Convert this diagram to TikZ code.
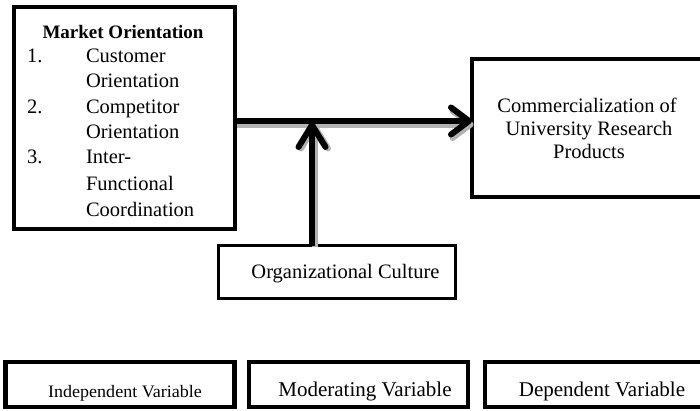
\documentclass[tikz,border=0pt]{standalone}
\usepackage{fontspec}
\setmainfont{Liberation Serif}
\usetikzlibrary{arrows.meta}
\begin{document}
\begin{tikzpicture}[x=1pt,y=-1pt,
  box/.style={draw=black, line width=#1, inner sep=0pt, outer sep=0pt, anchor=north west},
  txt/.style={inner sep=0pt, outer sep=0pt, font=\fontsize{20.5}{23}\selectfont},
  smalltxt/.style={inner sep=0pt, outer sep=0pt, font=\fontsize{#1}{#1}\selectfont},
  flow/.style={draw=black, line width=6pt, -{Straight Barb[length=#1,width=27pt,round]}},
  flow/.default=18pt,
  flowshadow/.style={draw=black!30, line width=6pt, -{Straight Barb[length=#1,width=27pt,round]}},
  flowshadow/.default=18pt
]
\useasboundingbox (0,0) rectangle (700,410);
\clip (0,0) rectangle (700,410);

% boxes of the model
\node[box=4pt, minimum width=221pt, minimum height=222pt] (lbox) at (14,7) {};
\node[box=4pt, minimum width=240pt, minimum height=138pt] (rbox) at (472,59) {};
\node[box=3pt, minimum width=237pt, minimum height=53pt] (mbox) at (218.5,245.5) {};

% legend boxes
\node[box=4.5pt, minimum width=229pt, minimum height=45pt] (leg1) at (5.5,362) {};
\node[box=4.5pt, minimum width=219pt, minimum height=45pt] (leg2) at (249,362) {};
\node[box=4.5pt, minimum width=240pt, minimum height=45pt] (leg3) at (485,362) {};

% independent variable
\node[txt, anchor=base, font=\fontsize{19}{23}\bfseries] (mtitle) at (123,38) {Market Orientation};
\node[txt, anchor=base west] (n1) at (27,62) {1.};
\node[txt, anchor=base west] (i1a) at (86,62) {Customer};
\node[txt, anchor=base west] (i1b) at (86,87) {Orientation};
\node[txt, anchor=base west] (n2) at (27,113) {2.};
\node[txt, anchor=base west] (i2a) at (86,113) {Competitor};
\node[txt, anchor=base west] (i2b) at (86,138) {Orientation};
\node[txt, anchor=base west] (n3) at (27,163) {3.};
\node[txt, anchor=base west] (i3a) at (86,163) {Inter-};
\node[txt, anchor=base west] (i3b) at (86,190) {Functional};
\node[txt, anchor=base west] (i3c) at (86,216) {Coordination};

% dependent variable
\node[txt, anchor=base] (d1) at (587,112) {Commercialization of};
\node[txt, anchor=base] (d2) at (589,135) {University Research};
\node[txt, anchor=base] (d3) at (589,158) {Products};

% moderating variable
\node[txt, anchor=base] (mtxt) at (345.5,278) {Organizational Culture};

% legend texts
\node[smalltxt=17.5, anchor=base, xscale=1.03] (l1) at (125,397) {Independent Variable};
\node[smalltxt=21, anchor=base] (l2) at (365,396) {Moderating Variable};
\node[smalltxt=21, anchor=base] (l3) at (602,396) {Dependent Variable};

% connectors, each with a grey drop shadow
\coordinate (j) at (312,121);
\begin{scope}[transform canvas={shift={(1.5pt,-3.5pt)}}]
  \draw[flowshadow] (lbox.east |- j) -- (rbox.west |- j);
\end{scope}
\begin{scope}[transform canvas={shift={(2.5pt,-1.5pt)}}]
  \draw[flowshadow=22pt] (mbox.north -| j) -- ([yshift=-1pt]j);
\end{scope}
\draw[flow] (lbox.east |- j) -- (rbox.west |- j);
\draw[flow=22pt] (mbox.north -| j) -- ([yshift=-1pt]j);
\end{tikzpicture}
\end{document}
